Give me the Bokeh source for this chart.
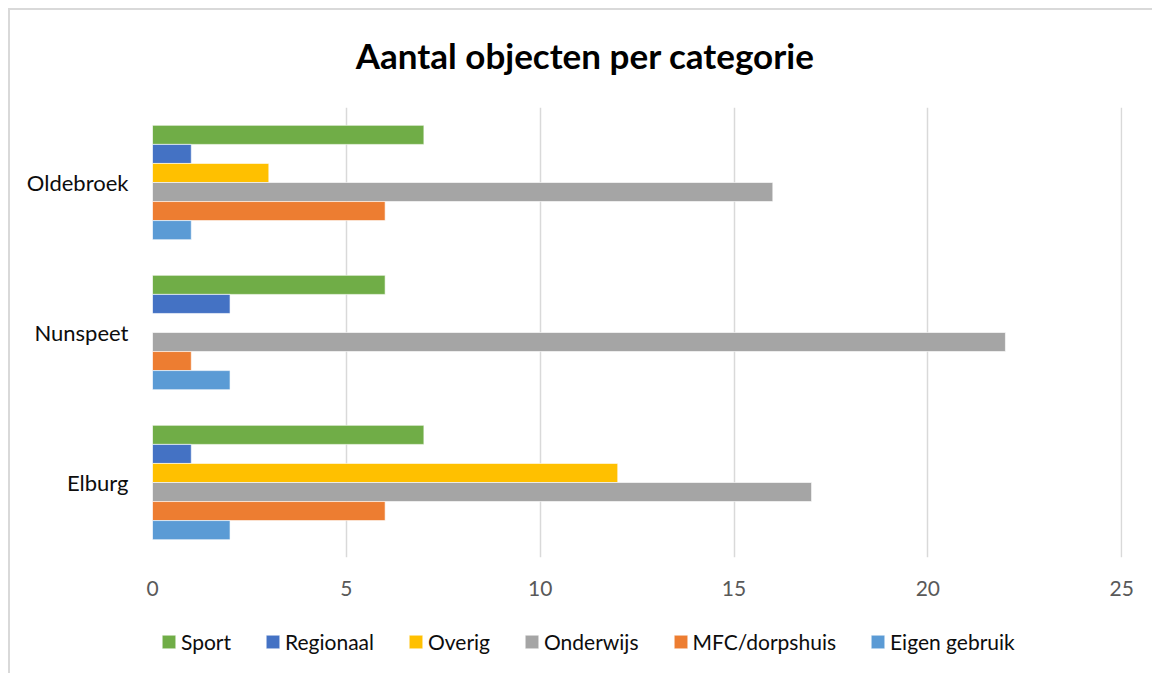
from bokeh.plotting import figure
from bokeh.models import ColumnDataSource, Range1d, FactorRange, Legend, LegendItem, FixedTicker, Spacer, Label
from bokeh.layouts import column, row
from bokeh.transform import dodge
from bokeh.embed import file_html
from bokeh.resources import INLINE

gemeenten = ["Elburg", "Nunspeet", "Oldebroek"]
series = ["Sport", "Regionaal", "Overig", "Onderwijs", "MFC/dorpshuis", "Eigen gebruik"]
sport = [7, 6, 7]
regionaal = [1, 2, 1]
overig = [12, 0, 3]
onderwijs = [17, 22, 16]
mfc = [6, 1, 6]
eigen = [2, 2, 1]
colors = ["#70AD47", "#4472C4", "#FFC000", "#A5A5A5", "#ED7D31", "#5B9BD5"]
title_text = "Aantal objecten per categorie"
x_ticks = [0, 5, 10, 15, 20, 25]

FONT = "Lato"
BORDER = "2px solid #d9d9d9"
W = 1144
XMAX = 25.02

# ---- title strip ----
tp = figure(width=W, height=80, output_backend="svg", toolbar_location=None,
            x_range=Range1d(0, XMAX), y_range=Range1d(0, 1),
            min_border_left=0, min_border_right=0, min_border_top=0, min_border_bottom=0,
            styles={"border-top": BORDER, "border-left": BORDER})
tp.axis.visible = False
tp.grid.visible = False
tp.outline_line_color = None
tp.title = None
tp.add_layout(Label(x=11.16, y=0.44, text=title_text, text_font=FONT, text_font_style="bold",
                    text_font_size="35px", text_color="#000000", text_align="center",
                    text_baseline="middle"))

# ---- main chart ----
source = ColumnDataSource(dict(gemeente=gemeenten, s0=sport, s1=regionaal, s2=overig,
                               s3=onderwijs, s4=mfc, s5=eigen))
p = figure(width=W, height=525, output_backend="svg", toolbar_location=None,
           y_range=FactorRange(*gemeenten, range_padding=0), x_range=Range1d(0, XMAX),
           min_border_left=142, min_border_right=32, min_border_top=19, min_border_bottom=56,
           styles={"border-left": BORDER})
p.title = None
p.outline_line_color = None
p.background_fill_color = "white"
p.border_fill_color = "white"

bw = 0.127
for i, name in enumerate(series):
    off = (2.5 - i) * bw
    p.hbar(y=dodge("gemeente", off, range=p.y_range), left=0, right="s%d" % i,
           height=bw, source=source, fill_color=colors[i], line_color="white",
           line_alpha=0.6, line_width=1)

p.xaxis.ticker = FixedTicker(ticks=x_ticks)
p.xaxis.axis_line_color = None
p.xaxis.major_tick_line_color = None
p.xaxis.minor_tick_line_color = None
p.xaxis.major_tick_out = 0
p.xaxis.major_tick_in = 0
p.xaxis.major_label_text_font = FONT
p.xaxis.major_label_text_font_size = "21px"
p.xaxis.major_label_text_color = "#595959"
p.xaxis.major_label_standoff = 23

p.yaxis.axis_line_color = None
p.yaxis.major_tick_line_color = None
p.yaxis.major_tick_out = 0
p.yaxis.major_tick_in = 0
p.yaxis.major_label_text_font = FONT
p.yaxis.major_label_text_font_size = "22px"
p.yaxis.major_label_text_color = "#0d0d0d"
p.yaxis.major_label_standoff = 24

p.ygrid.grid_line_color = None
p.xgrid.grid_line_color = "#d9d9d9"
p.xgrid.grid_line_width = 1.5

# ---- legend strip ----
lp = figure(width=W, height=60, output_backend="svg", toolbar_location=None,
            x_range=Range1d(0, 1), y_range=Range1d(0, 1),
            min_border_left=0, min_border_right=0, min_border_top=0, min_border_bottom=0,
            styles={"border-left": BORDER})
lp.axis.visible = False
lp.grid.visible = False
lp.outline_line_color = None
lp.title = None
proxy = ColumnDataSource(dict(y=[0], right=[0]))
items = []
for i, name in enumerate(series):
    r = lp.hbar(y="y", right="right", left=0, height=0, source=proxy,
                fill_color=colors[i], line_color="white", line_alpha=0.6, line_width=1)
    items.append(LegendItem(label=name, renderers=[r]))
legend = Legend(items=items, location=(8, 19), orientation="horizontal",
                label_text_font=FONT, label_text_font_size="21px", label_text_color="#0d0d0d",
                glyph_width=17, glyph_height=17, label_standoff=4, spacing=33,
                border_line_color=None, background_fill_alpha=0, padding=0, margin=0)
lp.add_layout(legend, "center")

layout = column(Spacer(height=8), row(Spacer(width=8), column(tp, p, lp, spacing=0)))
open("out.html", "w").write(file_html(layout, INLINE))
